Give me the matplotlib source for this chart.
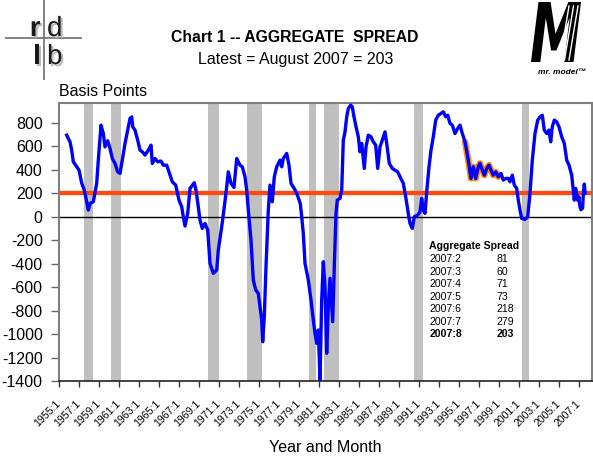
import matplotlib
matplotlib.use("Agg")
import numpy as np
import matplotlib.pyplot as plt
import matplotlib.patheffects as pe
from matplotlib.lines import Line2D
from matplotlib.textpath import TextPath
from matplotlib.patches import PathPatch
from matplotlib.font_manager import FontProperties
import matplotlib.transforms as mtransforms

plt.rcParams["font.family"] = ["Liberation Sans", "DejaVu Sans"]
plt.rcParams["axes.unicode_minus"] = False

# spread (decimal year, basis points)
t = [
    1955.74, 1956.07, 1956.24, 1956.40, 1956.74, 1956.97, 1957.24, 1957.50, 1957.64, 1957.90,
    1958.07, 1958.40, 1958.74, 1958.90, 1959.17, 1959.40, 1959.57, 1959.84, 1960.07, 1960.30,
    1960.57, 1960.84, 1961.07, 1961.30, 1961.57, 1961.80, 1962.07, 1962.24, 1962.34, 1962.57,
    1962.84, 1963.07, 1963.30, 1963.57, 1963.90, 1964.17, 1964.30, 1964.57, 1964.84, 1965.17,
    1965.40, 1965.74, 1966.07, 1966.30, 1966.64, 1966.97, 1967.24, 1967.40, 1967.57, 1967.84,
    1968.07, 1968.50, 1968.67, 1968.90, 1969.07, 1969.30, 1969.57, 1969.84, 1970.07, 1970.40,
    1970.74, 1970.90, 1971.24, 1971.50, 1971.74, 1971.90, 1972.17, 1972.47, 1972.74, 1973.07,
    1973.30, 1973.57, 1973.74, 1973.90, 1974.17, 1974.40, 1974.64, 1974.90, 1975.07, 1975.24,
    1975.34, 1975.50, 1975.67, 1975.90, 1976.07, 1976.30, 1976.50, 1976.74, 1977.07, 1977.24,
    1977.40, 1977.74, 1977.97, 1978.17, 1978.50, 1978.74, 1978.95, 1979.10, 1979.24, 1979.40,
    1979.57, 1979.90, 1980.17, 1980.40, 1980.57, 1980.74, 1980.90, 1981.07, 1981.24, 1981.40,
    1981.57, 1981.74, 1981.90, 1982.07, 1982.24, 1982.34, 1982.50, 1982.67, 1982.80, 1983.07,
    1983.24, 1983.40, 1983.57, 1983.74, 1983.90, 1984.14, 1984.30, 1984.47, 1984.64, 1984.90,
    1985.07, 1985.24, 1985.50, 1985.67, 1985.90, 1986.17, 1986.40, 1986.64, 1986.84, 1987.07,
    1987.30, 1987.57, 1987.74, 1988.00, 1988.30, 1988.57, 1988.84, 1989.07, 1989.40, 1989.64,
    1989.90, 1990.07, 1990.30, 1990.50, 1990.84, 1991.07, 1991.24, 1991.40, 1991.57, 1991.74,
    1991.97, 1992.17, 1992.40, 1992.64, 1992.90, 1993.17, 1993.40, 1993.64, 1993.84, 1994.07,
    1994.30, 1994.57, 1994.84, 1995.07, 1995.30, 1995.57, 1995.84, 1996.00, 1996.17, 1996.40,
    1996.64, 1996.90, 1997.07, 1997.24, 1997.50, 1997.74, 1997.97, 1998.17, 1998.40, 1998.64,
    1998.90, 1999.17, 1999.40, 1999.64, 1999.90, 2000.07, 2000.30, 2000.50, 2000.74, 2000.90,
    2001.07, 2001.24, 2001.57, 2001.84, 2002.07, 2002.30, 2002.57, 2002.84, 2003.07, 2003.30,
    2003.50, 2003.74, 2003.97, 2004.14, 2004.30, 2004.50, 2004.74, 2004.97, 2005.24, 2005.50,
    2005.74, 2005.97, 2006.24, 2006.40, 2006.50, 2006.64, 2006.84, 2006.97, 2007.00, 2007.08,
    2007.17, 2007.25, 2007.33, 2007.42, 2007.50, 2007.58,
]
spread = [
    696, 639, 568, 469, 426, 398, 287, 227, 170, 57,
    114, 128, 285, 483, 781, 710, 596, 648, 583, 497,
    455, 383, 370, 483, 625, 724, 838, 852, 767, 739,
    653, 568, 554, 526, 568, 611, 455, 497, 469, 475,
    440, 440, 355, 298, 270, 142, 85, 0, -79, 29,
    242, 290, 227, 85, -28, -99, -57, -113, -397, -482,
    -454, -284, -85, 85, 256, 383, 285, 250, 497, 440,
    426, 341, 227, 57, -199, -539, -624, -653, -767, -880,
    -1065, -852, -426, 57, 270, 128, 341, 426, 483, 426,
    497, 540, 440, 285, 240, 200, 150, 110, 0, -142,
    -397, -539, -710, -880, -994, -1079, -965, -1391, -710, -383,
    -596, -1164, -767, -525, -767, -894, -426, 29, 142, 157,
    227, 653, 724, 852, 923, 952, 937, 852, 781, 682,
    554, 625, 412, 596, 696, 682, 639, 611, 412, 596,
    653, 724, 625, 455, 412, 398, 383, 341, 285, 170,
    29, -57, -99, 0, 14, 43, 157, 57, 29, 213,
    426, 568, 682, 824, 866, 881, 895, 852, 866, 796,
    781, 710, 753, 781, 710, 639, 511, 426, 327, 426,
    327, 426, 455, 412, 355, 412, 440, 398, 355, 383,
    341, 370, 313, 327, 327, 298, 355, 270, 242, 142,
    57, -14, -22, 0, 199, 483, 710, 824, 852, 866,
    739, 710, 739, 639, 767, 824, 809, 767, 682, 625,
    483, 440, 355, 227, 142, 242, 142, 170, 130, 81,
    60, 71, 73, 218, 279, 203,
]
latest = 203

# recession shading (start, end) in decimal years
rec_start = [1957.50, 1960.17, 1969.90, 1973.80, 1979.98, 1981.50, 1990.50, 2001.22]
rec_end = [1958.33, 1961.17, 1970.97, 1975.27, 1980.64, 1983.00, 1991.37, 2002.00]

# highlighted stretch
hl_start, hl_end = 1995.35, 1998.95

table_dates = ["2007:2", "2007:3", "2007:4", "2007:5", "2007:6", "2007:7", "2007:8"]
table_vals = ["81", "60", "71", "73", "218", "279", "203"]

tick_years = list(range(1955, 2008, 2))
y_ticks = list(range(-1400, 801, 200))

W, H = 593, 458
fig = plt.figure(figsize=(W / 100, H / 100), dpi=100)


def fx(px):
    return px / W


def fy(py):
    return 1 - py / H


ax = fig.add_axes([fx(59.3), fy(381), fx(592) - fx(59.3), fy(103) - fy(381)])

for s, e in zip(rec_start, rec_end):
    ax.axvspan(s, e, color="#c0c0c0", lw=0, zorder=1)

ax.axhline(0, color="black", lw=1.0, zorder=2)
ax.axhline(latest, color="#ff4a10", lw=3.1, zorder=3)

t_arr = np.array(t)
s_arr = np.array(spread)
mask = (t_arr >= hl_start) & (t_arr <= hl_end)
ax.plot(t_arr[mask], s_arr[mask], color="#ff8c00", lw=4.6, zorder=4,
        solid_capstyle="round", solid_joinstyle="round")
ax.plot(t_arr, s_arr, color="#0000ff", lw=2.4, zorder=5, solid_joinstyle="round")

ax.set_xlim(1955.0, 2008.27)
ax.set_ylim(-1400, 970)
ax.set_yticks(y_ticks)
ax.set_yticklabels([str(v) for v in y_ticks], fontsize=11.5)
ax.set_xticks(tick_years)
ax.set_xticklabels([f"{y}:1" for y in tick_years], fontsize=7.6, rotation=45,
                   ha="right", va="center", rotation_mode="anchor")
ax.tick_params(axis="y", direction="out", length=6, width=1, color="#666666", pad=6)
ax.tick_params(axis="x", direction="out", length=4.5, width=1, color="#333333", pad=11)

for side in ["left", "top", "right"]:
    ax.spines[side].set_color("#808080")
    ax.spines[side].set_linewidth(1.5)
ax.spines["bottom"].set_color("#222222")
ax.spines["bottom"].set_linewidth(1.2)

# summary table
fig.text(fx(429.3), fy(246), "Aggregate Spread", fontsize=7.6, weight="bold", va="center")
for i, (d, v) in enumerate(zip(table_dates, table_vals)):
    w = "bold" if i == len(table_dates) - 1 else "normal"
    yy = fy(259.3 + i * 12.45)
    fig.text(fx(429.3), yy, d, fontsize=7.6, weight=w, va="center")
    fig.text(fx(496.7), yy, v, fontsize=7.6, weight=w, va="center")

# titles and labels
fig.text(fx(295), fy(37), "Chart 1 -- AGGREGATE  SPREAD", fontsize=11.3,
         weight="bold", ha="center", va="center")
fig.text(fx(295.5), fy(59.5), "Latest = August 2007 = 203", fontsize=11.5,
         ha="center", va="center")
fig.text(fx(59.3), fy(91), "Basis Points", fontsize=11.5, ha="left", va="center")
fig.text(fx(325.6), fy(447), "Year and Month", fontsize=11.5, ha="center", va="center")

# rd/lb logo
fig.add_artist(Line2D([fx(43.5), fx(43.5)], [fy(0), fy(79)], color="#777777", lw=1.3))
fig.add_artist(Line2D([fx(6), fx(81)], [fy(38), fy(38)], color="#777777", lw=1.3))
shadow = [pe.SimplePatchShadow(offset=(1.5, -1.5), shadow_rgbFace="#aaaaaa", alpha=0.8),
          pe.Normal()]
for ch, x, y, ha, wt in [("r", 40.5, 36, "right", "bold"), ("d", 47, 36, "left", "normal"),
                         ("l", 40.5, 64, "right", "bold"), ("b", 47, 64, "left", "normal")]:
    fig.text(fx(x), fy(y), ch, fontsize=20, ha=ha, va="baseline", weight=wt,
             color="#1a1a1a", path_effects=shadow)

# mr. model logo
tp = TextPath((0, 0), "M", size=1,
              prop=FontProperties(family="DejaVu Sans", weight="bold", style="italic"))
bb = tp.get_extents()
sx = (fx(581) - fx(531)) / bb.width
sy = (fy(2) - fy(62)) / bb.height
tr = (mtransforms.Affine2D().translate(-bb.x0, -bb.y0).scale(sx, sy)
      .translate(fx(531), fy(62)) + fig.transFigure)
fig.add_artist(PathPatch(tp, transform=tr, facecolor="black", edgecolor="none"))
for k in range(3):
    x0 = 560 + k * 4.5
    fig.add_artist(Line2D([fx(x0), fx(x0 + 9)], [fy(60), fy(6)], color="white", lw=1.0))
fig.text(fx(562), fy(72), "mr. model\u2122", fontsize=6, style="italic", weight="bold",
         ha="center", va="center")

fig.savefig("out.png", dpi=100)
